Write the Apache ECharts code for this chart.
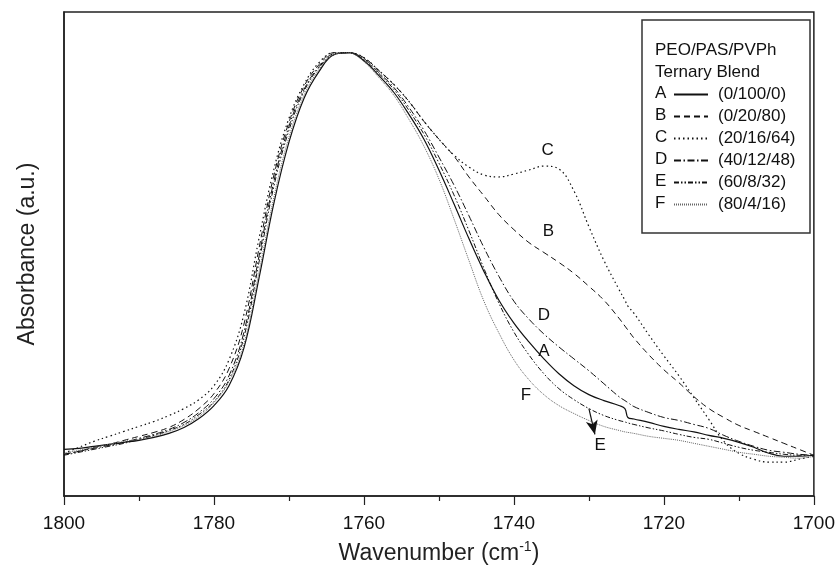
<!DOCTYPE html>
<html><head><meta charset="utf-8">
<script src="https://cdn.jsdelivr.net/npm/echarts@6/dist/echarts.min.js"></script>
<style>html,body{margin:0;padding:0;background:#fff}#c{width:838px;height:573px}</style>
</head><body><div id="c"></div>
<script>
// Wavenumber sample positions (cm-1)
const wavenumbers = [1800,1798,1796,1794,1792,1790,1788,1786,1784,1782,1780,1778,1776,1774,1772,1770,1768,1766,1764,1762,
  1760,1758,1756,1754,1752,1750,1748,1746,1744,1742,1740,1738,1736,1734,1732,1730,1728,1726,1725.2,1724.8,
  1724,1722,1720,1718,1716,1714,1712,1710,1708,1706,1704,1702,1700];

// Absorbance (a.u.)
const absA = [0.47,0.48,0.50,0.52,0.54,0.56,0.59,0.63,0.69,0.78,0.91,1.11,1.49,2.19,2.95,3.56,4.00,4.27,4.44,4.46,
  4.38,4.23,4.06,3.84,3.59,3.28,2.94,2.59,2.26,1.97,1.74,1.55,1.38,1.23,1.11,1.02,0.96,0.91,0.88,0.79,
  0.775,0.74,0.70,0.67,0.645,0.61,0.58,0.54,0.49,0.43,0.40,0.40,0.41];
const absB = [0.42,0.45,0.49,0.52,0.56,0.60,0.64,0.69,0.77,0.88,1.03,1.28,1.73,2.49,3.23,3.76,4.12,4.34,4.46,4.46,
  4.41,4.28,4.14,3.97,3.77,3.59,3.42,3.21,3.02,2.83,2.68,2.55,2.45,2.35,2.24,2.11,1.97,1.79,1.71,1.67,
  1.59,1.42,1.27,1.14,1.00,0.88,0.79,0.71,0.65,0.59,0.53,0.47,0.41];
const absC = [0.43,0.49,0.55,0.60,0.65,0.70,0.75,0.81,0.88,0.97,1.11,1.37,1.83,2.59,3.29,3.80,4.14,4.36,4.46,4.46,
  4.41,4.28,4.14,3.97,3.77,3.59,3.43,3.31,3.23,3.21,3.24,3.28,3.32,3.29,3.07,2.71,2.37,2.08,1.97,1.91,
  1.84,1.62,1.41,1.21,0.99,0.77,0.55,0.43,0.37,0.34,0.34,0.37,0.40];
const absD = [0.42,0.45,0.48,0.51,0.54,0.58,0.62,0.67,0.74,0.84,0.98,1.21,1.65,2.41,3.17,3.72,4.09,4.32,4.45,4.46,
  4.40,4.26,4.11,3.91,3.68,3.41,3.13,2.82,2.50,2.21,1.96,1.78,1.63,1.50,1.38,1.26,1.13,1.00,0.96,0.94,
  0.90,0.84,0.79,0.76,0.72,0.68,0.61,0.55,0.50,0.46,0.44,0.42,0.41];
const absE = [0.41,0.44,0.47,0.50,0.53,0.57,0.61,0.66,0.72,0.82,0.95,1.17,1.60,2.35,3.12,3.68,4.07,4.31,4.44,4.46,
  4.39,4.25,4.09,3.88,3.64,3.35,3.03,2.67,2.29,1.94,1.65,1.42,1.23,1.08,0.97,0.88,0.81,0.76,0.745,0.735,
  0.72,0.685,0.655,0.62,0.59,0.57,0.53,0.49,0.46,0.44,0.42,0.41,0.41];
const absF = [0.43,0.46,0.49,0.52,0.55,0.57,0.60,0.65,0.71,0.80,0.94,1.15,1.53,2.25,3.01,3.61,4.03,4.29,4.44,4.46,
  4.37,4.21,4.03,3.79,3.52,3.19,2.79,2.37,1.96,1.64,1.37,1.17,1.02,0.91,0.83,0.76,0.70,0.66,0.645,0.64,
  0.63,0.60,0.58,0.56,0.53,0.50,0.47,0.44,0.42,0.40,0.39,0.38,0.40];

const letters = ['A','B','C','D','E','F'];
const compositions = ['(0/100/0)','(0/20/80)','(20/16/64)','(40/12/48)','(60/8/32)','(80/4/16)'];
const legendTitle = ['PEO/PAS/PVPh','Ternary Blend'];
const xMin = 1700, xMax = 1800, xInterval = 20;
const yMin = 0, yMax = 4.87;

// Curve label positions in data units [wavenumber, absorbance]
const labelPos = [[1736.0,1.46],[1735.4,2.66],[1735.5,3.48],[1736.0,1.82],[1728.5,0.51],[1738.4,1.01]];
const arrowFrom = [1730.0,0.88];
const arrowTo = [1729.2,0.62];

const FONT = 'Liberation Sans, Arial, Helvetica, sans-serif';
const allAbs = [absA,absB,absC,absD,absE,absF];
const lineStyles = [
  {color:'#111', type:'solid', width:1.2},
  {color:'#111', type:[6,4], width:1},
  {color:'#111', type:[1.5,3], width:1.2},
  {color:'#111', type:[7,2.5,1.5,2.5], width:1},
  {color:'#111', type:[5,2,1.5,2,1.5,2], width:1},
  {color:'#666', type:[1,1], width:1}
];

const series = letters.map((L,i)=>{
  const s = {
    name: L + ' ' + compositions[i],
    type:'line',
    data: wavenumbers.map((w,k)=>[w, allAbs[i][k]]),
    symbol:'none',
    smooth:0.4,
    lineStyle: lineStyles[i],
    itemStyle:{color: lineStyles[i].color},
    z: 2,
    markPoint:{
      symbol:'circle', symbolSize:1,
      itemStyle:{color:'rgba(0,0,0,0)'},
      label:{show:true, position:'inside', formatter:L, fontSize:17, color:'#111', fontFamily:FONT},
      data:[{coord: labelPos[i]}],
      animation:false, silent:true
    }
  };
  if (L === 'E') {
    s.markLine = {
      symbol:['none','arrow'], symbolSize:[9,14], silent:true, animation:false,
      lineStyle:{color:'#111', type:'solid', width:1.2},
      label:{show:false},
      data:[[{coord:arrowFrom},{coord:arrowTo}]]
    };
  }
  return s;
});

const chart = echarts.init(document.getElementById('c'), null, {renderer:'canvas'});
const rowY = [93,115,137,159,181,203];
const graphics = [
  {type:'rect', shape:{x:642, y:20, width:168, height:213}, style:{fill:'none', stroke:'#333', lineWidth:1.5}, z:10},
  {type:'text', x:655, y:50, style:{text:legendTitle[0], font:'17px '+FONT, fill:'#111', verticalAlign:'middle'}, z:10},
  {type:'text', x:655, y:72, style:{text:legendTitle[1], font:'17px '+FONT, fill:'#111', verticalAlign:'middle'}, z:10}
].concat(letters.map((L,i)=>({type:'text', x:655, y:rowY[i], style:{text:L, font:'17px '+FONT, fill:'#111', verticalAlign:'middle'}, z:10})));

chart.setOption({
  animation:false,
  backgroundColor:'#fff',
  grid:{left:64, right:23, top:12, bottom:74, show:true, borderColor:'#222', borderWidth:1.5, backgroundColor:'rgba(0,0,0,0)'},
  xAxis:{
    type:'value', inverse:true, min:xMin, max:xMax, interval:xInterval, position:'bottom',
    name:'Wavenumber (cm{sup|-1})', nameLocation:'middle', nameGap:44,
    nameTextStyle:{fontSize:23, color:'#222', fontFamily:FONT, lineHeight:28,
      rich:{sup:{fontSize:14, verticalAlign:'top', lineHeight:14, color:'#222', fontFamily:FONT}}},
    axisLine:{show:true, onZero:false, lineStyle:{color:'#222', width:1.5}},
    axisTick:{show:true, inside:false, length:9, lineStyle:{color:'#222', width:1.2}},
    minorTick:{show:true, splitNumber:2, length:5, lineStyle:{color:'#222', width:1.2}},
    splitLine:{show:false}, minorSplitLine:{show:false},
    axisLabel:{fontSize:19, color:'#111', fontFamily:FONT, margin:18, formatter:(v)=>String(v)}
  },
  yAxis:{
    type:'value', min:yMin, max:yMax,
    name:'Absorbance (a.u.)', nameLocation:'middle', nameGap:25,
    nameTextStyle:{fontSize:23, color:'#222', fontFamily:FONT},
    axisLine:{show:true, lineStyle:{color:'#222', width:1.5}},
    axisTick:{show:false}, axisLabel:{show:false}, splitLine:{show:false}
  },
  legend:{
    orient:'vertical', left:673, top:86, itemWidth:34, itemHeight:14, itemGap:5,
    padding:0, selectedMode:false,
    itemStyle:{color:'rgba(0,0,0,0)', borderColor:'rgba(0,0,0,0)', borderWidth:0},
    formatter:(name)=>name.slice(2),
    textStyle:{fontSize:17, color:'#111', fontFamily:FONT, padding:[0,0,0,5]},
    data: letters.map((L,i)=>L + ' ' + compositions[i])
  },
  graphic: graphics,
  series: series
});
</script>
</body></html>
